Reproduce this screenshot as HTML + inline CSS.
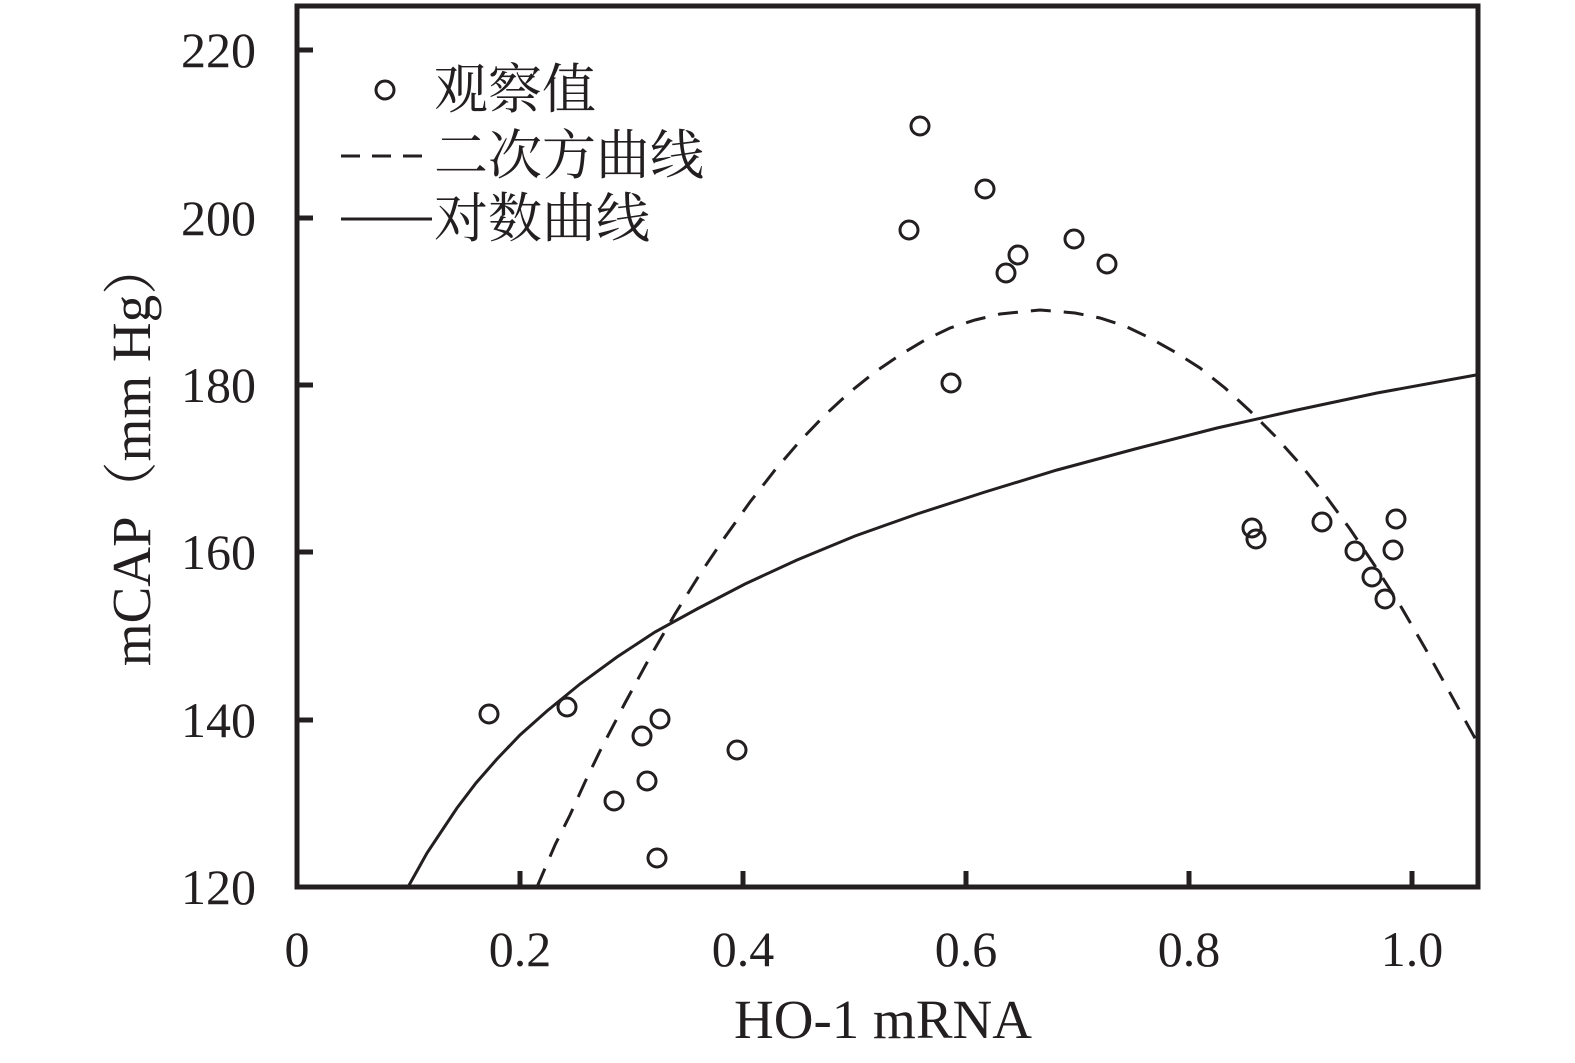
<!DOCTYPE html>
<html><head><meta charset="utf-8"><style>body{margin:0;background:#fff}svg{display:block}</style></head><body>
<svg width="1575" height="1063" viewBox="0 0 1575 1063" xmlns="http://www.w3.org/2000/svg" font-family="Liberation Serif, Noto Serif CJK SC, serif" fill="#231f20">
<rect x="297" y="6" width="1181" height="881" fill="none" stroke="#231f20" stroke-width="5"/>
<g stroke="#231f20" stroke-width="5">
<line x1="297" y1="50" x2="313" y2="50"/><line x1="297" y1="218" x2="313" y2="218"/><line x1="297" y1="385" x2="313" y2="385"/><line x1="297" y1="552" x2="313" y2="552"/><line x1="297" y1="720" x2="313" y2="720"/>
<line x1="520" y1="887" x2="520" y2="871"/><line x1="743" y1="887" x2="743" y2="871"/><line x1="966" y1="887" x2="966" y2="871"/><line x1="1189" y1="887" x2="1189" y2="871"/><line x1="1412" y1="887" x2="1412" y2="871"/>
</g>
<g font-size="50" text-anchor="end">
<text x="256" y="67">220</text><text x="256" y="235">200</text><text x="256" y="402">180</text><text x="256" y="569">160</text><text x="256" y="737">140</text><text x="256" y="904">120</text>
</g>
<g font-size="50" text-anchor="middle">
<text x="297" y="966">0</text><text x="520" y="966">0.2</text><text x="743" y="966">0.4</text><text x="966" y="966">0.6</text><text x="1189" y="966">0.8</text><text x="1412" y="966">1.0</text>
<text x="883" y="1038" font-size="55">HO-1 mRNA</text>
<text transform="translate(150,453) rotate(-90)" font-size="55">mCAP（mm Hg）</text>
</g>
<polyline fill="none" stroke="#231f20" stroke-width="3" points="408,887 417,871 427,853 441,832 457,808 476,783 497,759 520,735 547,711 580,684 617,657 655,632 697,609 745,584 797,560 855,536 917,514 985,492 1057,470 1135,449 1217,428 1297,410 1377,393 1476,375"/>
<polyline fill="none" stroke="#231f20" stroke-width="3" stroke-dasharray="20,13" points="537,887 555,845 570,815 585,782 600,751 625,703 650,657 675,614 700,574 725,537 750,502 775,470 800,441 825,415 850,392 875,372 900,355 925,340 950,328 975,320 1000,314 1040,310 1075,313 1100,318 1125,326 1150,338 1175,352 1200,368 1225,388 1250,411 1275,436 1300,464 1325,495 1350,529 1375,566 1400,605 1425,648 1450,693 1476,740"/>
<g fill="none" stroke="#231f20" stroke-width="3">
<circle cx="489" cy="714" r="9"/><circle cx="567" cy="707" r="9"/><circle cx="614" cy="801" r="9"/><circle cx="642" cy="736" r="9"/><circle cx="647" cy="781" r="9"/><circle cx="660" cy="719" r="9"/><circle cx="657" cy="858" r="9"/><circle cx="737" cy="750" r="9"/><circle cx="909" cy="230" r="9"/><circle cx="920" cy="126" r="9"/><circle cx="951" cy="383" r="9"/><circle cx="985" cy="189" r="9"/><circle cx="1006" cy="273" r="9"/><circle cx="1018" cy="255" r="9"/><circle cx="1074" cy="239" r="9"/><circle cx="1107" cy="264" r="9"/><circle cx="1252" cy="528" r="9"/><circle cx="1256" cy="539" r="9"/><circle cx="1322" cy="522" r="9"/><circle cx="1355" cy="551" r="9"/><circle cx="1372" cy="577" r="9"/><circle cx="1385" cy="599" r="9"/><circle cx="1393" cy="550" r="9"/><circle cx="1396" cy="519" r="9"/>
<circle cx="385" cy="90" r="9"/>
<line x1="341" y1="156" x2="432" y2="156" stroke-dasharray="19,12"/>
<line x1="341" y1="219" x2="432" y2="219"/>
</g>
<g font-size="54">
<text x="434" y="108">观察值</text>
<text x="434" y="174">二次方曲线</text>
<text x="434" y="237">对数曲线</text>
</g>
</svg>
</body></html>
